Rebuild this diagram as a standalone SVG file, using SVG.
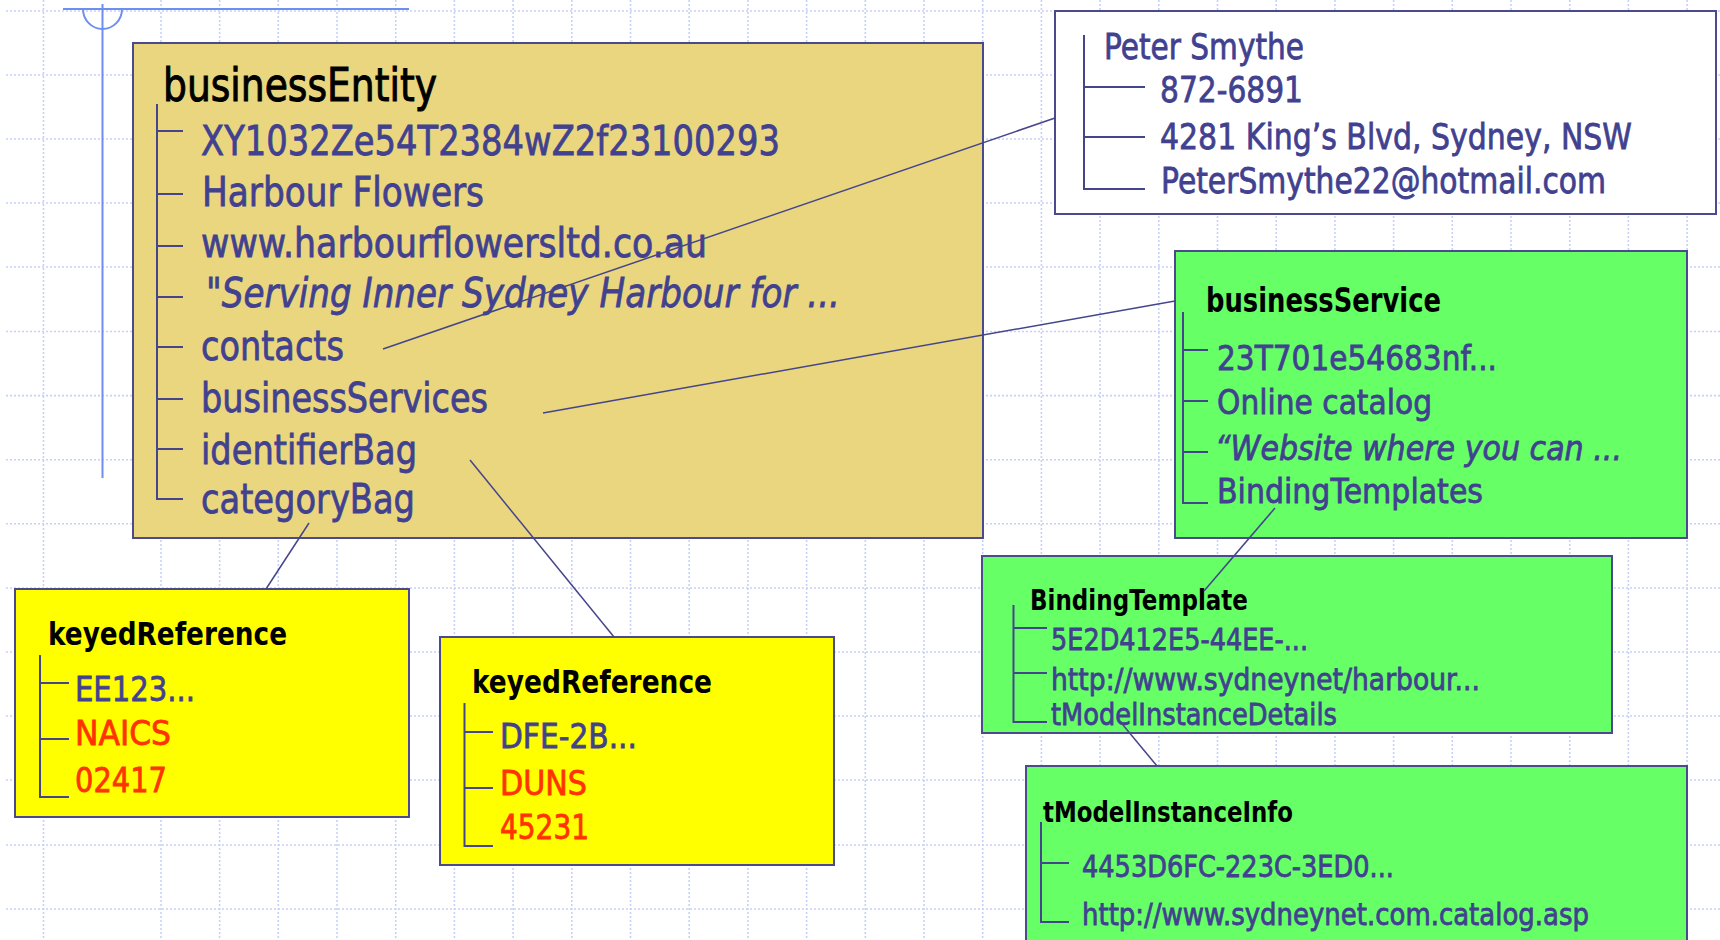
<svg xmlns="http://www.w3.org/2000/svg" width="1720" height="940" viewBox="0 0 1720 940">
<style>
.grid line{stroke:#c6d1fa;stroke-width:1.6;stroke-dasharray:2 2}
.deco{stroke:#6f8ff0;stroke-width:2;fill:none}
.box{stroke:#4a4a8c;stroke-width:2}
.tree{stroke:#45458c;stroke-width:2;fill:none}
.conn line{stroke:#45458c;stroke-width:1.5}
text{font-family:"DejaVu Sans","Liberation Sans",sans-serif}
.t{fill:#000;font-weight:bold}
.tn{fill:#000;stroke:#000;stroke-width:1}
.b{fill:#41418f;stroke:#41418f;stroke-width:0.8}
.r{fill:#ff3300;stroke:#ff3300;stroke-width:0.8}
.i{font-style:italic}
</style>
<rect width="1720" height="940" fill="#fff"/>
<g class="grid">
<line x1="43.5" y1="0" x2="43.5" y2="940"/><line x1="161" y1="0" x2="161" y2="940"/><line x1="219.6" y1="0" x2="219.6" y2="940"/><line x1="278.3" y1="0" x2="278.3" y2="940"/><line x1="337" y1="0" x2="337" y2="940"/><line x1="395.7" y1="0" x2="395.7" y2="940"/><line x1="454.4" y1="0" x2="454.4" y2="940"/><line x1="513.1" y1="0" x2="513.1" y2="940"/><line x1="571.8" y1="0" x2="571.8" y2="940"/><line x1="630.5" y1="0" x2="630.5" y2="940"/><line x1="689.2" y1="0" x2="689.2" y2="940"/><line x1="747.9" y1="0" x2="747.9" y2="940"/><line x1="806.6" y1="0" x2="806.6" y2="940"/><line x1="865.3" y1="0" x2="865.3" y2="940"/><line x1="924" y1="0" x2="924" y2="940"/><line x1="982.7" y1="0" x2="982.7" y2="940"/><line x1="1041.4" y1="0" x2="1041.4" y2="940"/><line x1="1100.1" y1="0" x2="1100.1" y2="940"/><line x1="1158.8" y1="0" x2="1158.8" y2="940"/><line x1="1217.5" y1="0" x2="1217.5" y2="940"/><line x1="1276.2" y1="0" x2="1276.2" y2="940"/><line x1="1334.9" y1="0" x2="1334.9" y2="940"/><line x1="1393.6" y1="0" x2="1393.6" y2="940"/><line x1="1452.3" y1="0" x2="1452.3" y2="940"/><line x1="1511" y1="0" x2="1511" y2="940"/><line x1="1569.7" y1="0" x2="1569.7" y2="940"/><line x1="1628.4" y1="0" x2="1628.4" y2="940"/><line x1="1687.1" y1="0" x2="1687.1" y2="940"/>
<line x1="6" y1="11" x2="1720" y2="11"/><line x1="6" y1="75" x2="1720" y2="75"/><line x1="6" y1="139" x2="1720" y2="139"/><line x1="6" y1="203" x2="1720" y2="203"/><line x1="6" y1="267" x2="1720" y2="267"/><line x1="6" y1="331.5" x2="1720" y2="331.5"/><line x1="6" y1="395.6" x2="1720" y2="395.6"/><line x1="6" y1="459.7" x2="1720" y2="459.7"/><line x1="6" y1="523.8" x2="1720" y2="523.8"/><line x1="6" y1="588" x2="1720" y2="588"/><line x1="6" y1="652" x2="1720" y2="652"/><line x1="6" y1="716" x2="1720" y2="716"/><line x1="6" y1="780" x2="1720" y2="780"/><line x1="6" y1="845" x2="1720" y2="845"/><line x1="6" y1="909" x2="1720" y2="909"/>
</g>
<g id="decor">
<line class="deco" x1="63" y1="9" x2="409" y2="9"/>
<path class="deco" d="M83,9 A19.5,20 0 0 0 122,9"/>
<line class="deco" x1="102.5" y1="4" x2="102.5" y2="478"/>
</g>
<g id="businessEntity">
<rect class="box" x="133" y="43" width="850" height="495" fill="#e9d67f"/>
<path class="tree" d="M157,104 V499 H183 M157,131 H183 M157,194 H183 M157,246 H183 M157,297 H183 M157,347 H183 M157,399 H183 M157,449 H183"/>
<text class="tn" x="163" y="101" font-size="46" textLength="274" lengthAdjust="spacingAndGlyphs">businessEntity</text>
<text class="b" x="201" y="155" font-size="40" textLength="579" lengthAdjust="spacingAndGlyphs">XY1032Ze54T2384wZ2f23100293</text>
<text class="b" x="202" y="206" font-size="40" textLength="282" lengthAdjust="spacingAndGlyphs">Harbour Flowers</text>
<text class="b" x="201" y="257" font-size="40" textLength="506" lengthAdjust="spacingAndGlyphs">www.harbourflowersltd.co.au</text>
<text class="b i" x="206" y="307" font-size="40" textLength="634" lengthAdjust="spacingAndGlyphs">"Serving Inner Sydney Harbour for ...</text>
<text class="b" x="201" y="360" font-size="40" textLength="143" lengthAdjust="spacingAndGlyphs">contacts</text>
<text class="b" x="201" y="412" font-size="40" textLength="287" lengthAdjust="spacingAndGlyphs">businessServices</text>
<text class="b" x="201" y="464" font-size="40" textLength="216" lengthAdjust="spacingAndGlyphs">identifierBag</text>
<text class="b" x="201" y="513" font-size="40" textLength="214" lengthAdjust="spacingAndGlyphs">categoryBag</text>
</g>
<g id="contact">
<rect class="box" x="1055" y="11" width="661" height="203" fill="#fff"/>
<path class="tree" d="M1084,35 V189 H1145 M1084,87 H1145 M1084,137 H1145"/>
<text class="b" x="1104" y="59" font-size="35" textLength="200" lengthAdjust="spacingAndGlyphs">Peter Smythe</text>
<text class="b" x="1160" y="102" font-size="35" textLength="143" lengthAdjust="spacingAndGlyphs">872-6891</text>
<text class="b" x="1160" y="149" font-size="35" textLength="472" lengthAdjust="spacingAndGlyphs">4281 King’s Blvd, Sydney, NSW</text>
<text class="b" x="1161" y="193" font-size="35" textLength="445" lengthAdjust="spacingAndGlyphs">PeterSmythe22@hotmail.com</text>
</g>
<g id="businessService">
<rect class="box" x="1175" y="251" width="512" height="287" fill="#66ff66"/>
<path class="tree" d="M1183,312 V503 H1208 M1183,350 H1208 M1183,401 H1208 M1183,452 H1208"/>
<text class="t" x="1206" y="312" font-size="33" textLength="235" lengthAdjust="spacingAndGlyphs">businessService</text>
<text class="b" x="1217" y="370" font-size="34" textLength="280" lengthAdjust="spacingAndGlyphs">23T701e54683nf...</text>
<text class="b" x="1217" y="414" font-size="34" textLength="215" lengthAdjust="spacingAndGlyphs">Online catalog</text>
<text class="b i" x="1215" y="460" font-size="34" textLength="407" lengthAdjust="spacingAndGlyphs">“Website where you can ...</text>
<text class="b" x="1217" y="503" font-size="34" textLength="266" lengthAdjust="spacingAndGlyphs">BindingTemplates</text>
</g>
<g id="bindingTemplate">
<rect class="box" x="982" y="556" width="630" height="177" fill="#66ff66"/>
<path class="tree" d="M1013.5,605 V722 H1047 M1013.5,628 H1047 M1013.5,673 H1047"/>
<text class="t" x="1030" y="610" font-size="29" textLength="218" lengthAdjust="spacingAndGlyphs">BindingTemplate</text>
<text class="b" x="1051" y="650" font-size="30" textLength="257" lengthAdjust="spacingAndGlyphs">5E2D412E5-44EE-...</text>
<text class="b" x="1051" y="690" font-size="30" textLength="429" lengthAdjust="spacingAndGlyphs">http://www.sydneynet/harbour...</text>
<text class="b" x="1051" y="725" font-size="30" textLength="286" lengthAdjust="spacingAndGlyphs">tModelInstanceDetails</text>
</g>
<g id="tModelInstanceInfo">
<rect class="box" x="1026" y="766" width="661" height="190" fill="#66ff66"/>
<path class="tree" d="M1041,822 V922 H1069 M1041,863 H1069"/>
<text class="t" x="1043" y="822" font-size="29" textLength="250" lengthAdjust="spacingAndGlyphs">tModelInstanceInfo</text>
<text class="b" x="1082" y="877" font-size="30" textLength="312" lengthAdjust="spacingAndGlyphs">4453D6FC-223C-3ED0...</text>
<text class="b" x="1082" y="925" font-size="30" textLength="507" lengthAdjust="spacingAndGlyphs">http://www.sydneynet.com.catalog.asp</text>
</g>
<g id="keyedReference1">
<rect class="box" x="15" y="589" width="394" height="228" fill="#ffff00"/>
<path class="tree" d="M40,655 V797 H69 M40,683 H69 M40,739 H69"/>
<text class="t" x="48" y="645" font-size="32" textLength="239" lengthAdjust="spacingAndGlyphs">keyedReference</text>
<text class="b" x="75" y="701" font-size="34" textLength="120" lengthAdjust="spacingAndGlyphs">EE123...</text>
<text class="r" x="75" y="745" font-size="34" textLength="96" lengthAdjust="spacingAndGlyphs">NAICS</text>
<text class="r" x="75" y="792" font-size="34" textLength="92" lengthAdjust="spacingAndGlyphs">02417</text>
</g>
<g id="keyedReference2">
<rect class="box" x="440" y="637" width="394" height="228" fill="#ffff00"/>
<path class="tree" d="M464.5,703 V846 H493 M464.5,732 H493 M464.5,788 H493"/>
<text class="t" x="472" y="693" font-size="32" textLength="240" lengthAdjust="spacingAndGlyphs">keyedReference</text>
<text class="b" x="500" y="748" font-size="33" textLength="137" lengthAdjust="spacingAndGlyphs">DFE-2B...</text>
<text class="r" x="500" y="795" font-size="33" textLength="87" lengthAdjust="spacingAndGlyphs">DUNS</text>
<text class="r" x="500" y="839" font-size="33" textLength="89" lengthAdjust="spacingAndGlyphs">45231</text>
</g>
<g id="connectors" class="conn">
<line x1="383" y1="349" x2="1055" y2="118"/>
<line x1="543" y1="413" x2="1175" y2="301"/>
<line x1="470" y1="460" x2="614" y2="637"/>
<line x1="309" y1="523" x2="266" y2="589"/>
<line x1="1275" y1="508" x2="1204" y2="591"/>
<line x1="1123" y1="725" x2="1157" y2="766"/>
</g>
</svg>
